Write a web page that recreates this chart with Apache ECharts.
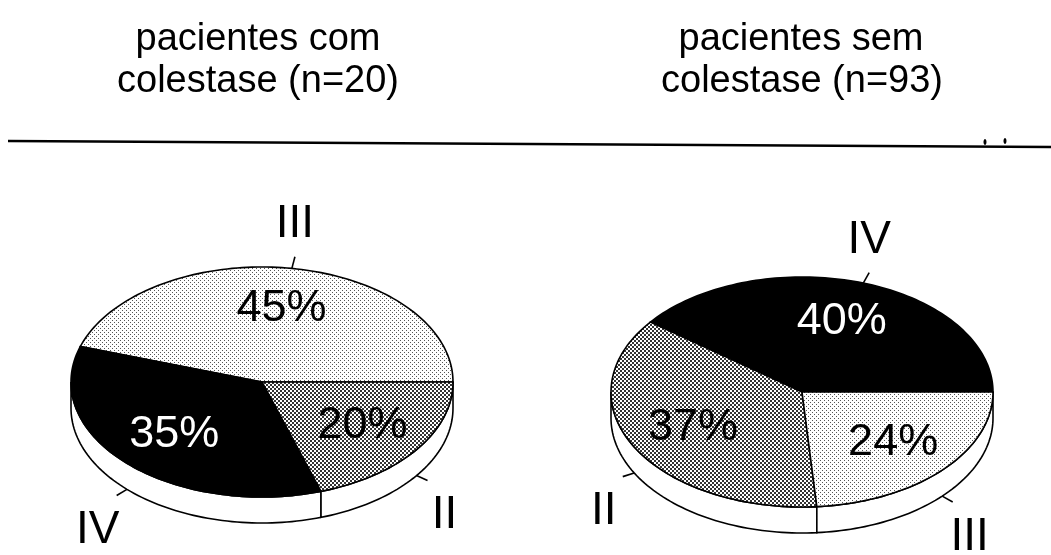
<!DOCTYPE html>
<html>
<head>
<meta charset="utf-8">
<script src="https://cdn.jsdelivr.net/npm/echarts@6/dist/echarts.min.js"></script>
<style>
  html, body { margin: 0; padding: 0; background: #fff; }
  #chart { width: 1051px; height: 555px; }
</style>
</head>
<body>
<div id="chart"></div>
<script>
// Estadio (II, III, IV) por grupo de pacientes, em percentagem
const titleWith = ['pacientes com', 'colestase (n=20)'];
const titleWithout = ['pacientes sem', 'colestase (n=93)'];

const withCats = ['III', 'IV', 'II'];
const withValues = [45, 35, 20];

const withoutCats = ['IV', 'II', 'III'];
const withoutValues = [40, 37, 24];

// ---- layout / style ----
const FONT = '"Liberation Sans", Arial, Helvetica, sans-serif';
const RX = 191, RY = 115, DEPTH = 26;
const pies = [
  { cx: 262, cy: 382, cats: withCats, values: withValues },
  { cx: 802, cy: 392, cats: withoutCats, values: withoutValues }
];

// stipple tiles used as fills
function makeTile(dark) {
  const c = document.createElement('canvas');
  c.width = 4; c.height = 4;
  const g = c.getContext('2d');
  if (dark) {
    g.fillStyle = '#333333'; g.fillRect(0, 0, 4, 4);
    g.fillStyle = '#ffffff';
    g.fillRect(0, 0, 2, 2);
    g.fillRect(2, 2, 2, 2);
  } else {
    g.fillStyle = '#ffffff'; g.fillRect(0, 0, 4, 4);
    g.fillStyle = '#555555';
    g.fillRect(0, 0, 1, 1); g.fillRect(2, 2, 1, 1);
  }
  return c;
}
const fills = {
  'II': { image: makeTile(true), repeat: 'repeat' },
  'III': { image: makeTile(false), repeat: 'repeat' },
  'IV': '#000000'
};
const textColors = { 'II': '#000', 'III': '#000', 'IV': '#fff' };

function ellPt(p, t, dy) {
  return [p.cx + RX * Math.cos(t), p.cy - RY * Math.sin(t) + (dy || 0)];
}
function arc(p, a0, a1, dy) {
  const pts = [];
  const n = Math.max(2, Math.ceil((a1 - a0) / (Math.PI / 120)));
  for (let i = 0; i <= n; i++) pts.push(ellPt(p, a0 + (a1 - a0) * i / n, dy));
  return pts;
}

function makeRender(p) {
  const total = p.values.reduce((s, v) => s + v, 0);
  return function (params, api) {
    const idx = api.value(1);
    let before = 0;
    for (let i = 0; i < idx; i++) before += p.values[i];
    const v = api.value(0);
    const a0 = before / total * Math.PI * 2;
    const a1 = (before + v) / total * Math.PI * 2;
    const cat = p.cats[idx];
    const children = [];

    // side of the disc (front half only)
    const lo = Math.max(a0, Math.PI), hi = Math.min(a1, Math.PI * 2);
    if (hi > lo) {
      const top = arc(p, lo, hi, 0);
      const bot = arc(p, lo, hi, DEPTH).reverse();
      children.push({
        type: 'polygon',
        shape: { points: top.concat(bot) },
        style: { fill: '#fff', stroke: '#000', lineWidth: 1.6 }
      });
    }

    // top face of the slice
    children.push({
      type: 'polygon',
      shape: { points: [[p.cx, p.cy]].concat(arc(p, a0, a1, 0)) },
      style: { fill: fills[cat], stroke: '#000', lineWidth: 1.6 }
    });

    // percentage inside the slice
    const m = (a0 + a1) / 2;
    const f = 0.65;
    children.push({
      type: 'text',
      style: {
        x: p.cx + RX * f * Math.cos(m),
        y: p.cy - RY * f * Math.sin(m),
        text: v + '%',
        fill: textColors[cat],
        font: '45px ' + FONT,
        align: 'center',
        verticalAlign: 'middle'
      }
    });

    // leader and category name
    const upper = Math.sin(m) >= 0;
    const base = ellPt(p, m, upper ? 0 : DEPTH);
    const dx = RX * Math.cos(m), dy = -RY * Math.sin(m);
    const len = Math.sqrt(dx * dx + dy * dy);
    const end = [base[0] + dx / len * 12, base[1] + dy / len * 12];
    children.push({
      type: 'line',
      shape: { x1: base[0], y1: base[1], x2: end[0], y2: end[1] },
      style: { stroke: '#000', lineWidth: 1.6 }
    });
    const lx = upper ? end[0] : end[0] + (Math.cos(m) >= 0 ? 17 : -19);
    const ly = upper ? end[1] - 32 : end[1] + 35;
    children.push({
      type: 'text',
      style: {
        x: lx, y: ly, text: cat, fill: '#000',
        font: '46px ' + FONT,
        align: 'center', verticalAlign: 'middle'
      }
    });

    return { type: 'group', children: children };
  };
}

const series = pies.map(p => ({
  type: 'custom',
  coordinateSystem: 'none',
  renderItem: makeRender(p),
  data: p.values.map((v, i) => ({ name: p.cats[i], value: [v, i] })),
  silent: true
}));

function titleText(x, y, s) {
  return {
    type: 'text', x: x, y: y,
    style: { text: s, fill: '#000', font: '38px ' + FONT, align: 'center', verticalAlign: 'middle' }
  };
}

const chart = echarts.init(document.getElementById('chart'), null, { renderer: 'canvas' });
chart.setOption({
  animation: false,
  backgroundColor: '#fff',
  graphic: [
    titleText(258, 40, titleWith[0]),
    titleText(258, 82, titleWith[1]),
    titleText(801, 40, titleWithout[0]),
    titleText(802, 82, titleWithout[1]),
    {
      type: 'line',
      shape: { x1: 8, y1: 141, x2: 1051, y2: 147 },
      style: { stroke: '#000', lineWidth: 2.5 }
    },
    { type: 'ellipse', shape: { cx: 985, cy: 142, rx: 1.5, ry: 3 }, style: { fill: '#000' } },
    { type: 'ellipse', shape: { cx: 1005, cy: 141, rx: 1.5, ry: 3 }, style: { fill: '#000' } }
  ],
  series: series
});
</script>
</body>
</html>
